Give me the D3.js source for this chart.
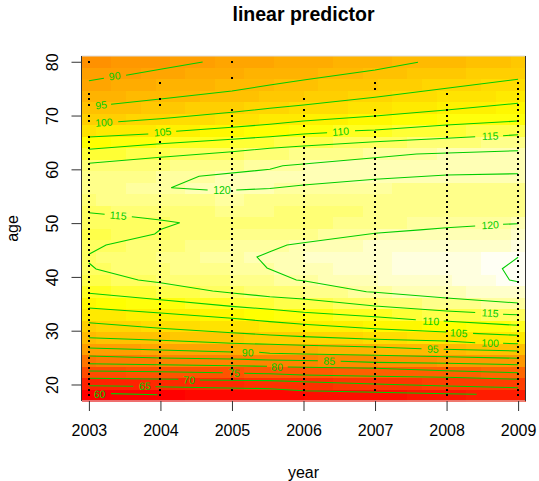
<!DOCTYPE html>
<html>
<head>
<meta charset="utf-8">
<script src="https://cdn.jsdelivr.net/npm/d3@7"></script>
<style>
  body { margin: 0; background: #fff; }
  text { font-family: "Liberation Sans", Arial, sans-serif; fill: #000; }
</style>
</head>
<body>
<div id="chart"></div>
<script>
const yearTicks = [2003, 2004, 2005, 2006, 2007, 2008, 2009];
const ageTicks = [20, 30, 40, 50, 60, 70, 80];

// linear predictor on the 30 x 30 grid, top row is age 80, bottom row is age 18
const gridValues = [
  [86.8,87.2,87.5,87.9,88.2,88.6,89,89.4,89.8,90.2,90.6,90.9,91.2,91.5,91.7,92,92.4,92.8,93.1,93.4,93.7,94,94.3,94.5,94.8,95,95.3,95.6,95.9,96.4],
  [88.7,89.1,89.5,89.9,90.3,90.7,91,91.4,91.7,92.1,92.4,92.7,92.9,93.2,93.5,93.8,94.2,94.7,95.1,95.5,95.9,96.2,96.6,96.9,97.3,97.6,97.9,98.2,98.5,98.8],
  [90.8,91.2,91.5,91.9,92.2,92.6,92.9,93.2,93.6,93.9,94.2,94.6,95,95.4,95.8,96.1,96.5,96.9,97.2,97.6,98,98.3,98.6,99,99.3,99.7,100,100.3,100.7,101.1],
  [93,93.3,93.6,93.9,94.2,94.5,94.8,95.1,95.4,95.6,95.9,96.3,96.7,97.1,97.5,97.9,98.4,98.8,99.2,99.6,100,100.4,100.8,101.2,101.6,101.9,102.3,102.7,103.1,103.5],
  [95.2,95.6,95.9,96.3,96.6,97,97.4,97.8,98.2,98.5,98.9,99.3,99.6,100,100.4,100.8,101.1,101.5,101.9,102.3,102.7,103.1,103.6,104,104.4,104.7,105,105.2,105.5,105.7],
  [98,98.5,98.9,99.4,99.8,100.2,100.6,101,101.5,101.9,102.3,102.8,103.2,103.7,104.1,104.5,104.9,105.3,105.7,106.1,106.5,106.9,107.3,107.7,108.1,108.3,108.5,108.8,109,109.3],
  [102.5,102.9,103.3,103.7,104.1,104.5,104.9,105.3,105.6,106,106.4,106.9,107.4,107.9,108.4,108.9,109.3,109.7,110,110.4,110.8,111.1,111.5,111.8,112.2,112.4,112.7,113,113.2,113.5],
  [107.1,107.6,108.1,108.6,109.1,109.6,109.9,110.2,110.6,110.9,111.2,111.7,112.2,112.7,113.2,113.6,113.9,114.2,114.5,114.8,115.1,115.4,115.7,116,116.3,116.6,116.8,117.1,117.3,117.6],
  [111.5,112,112.4,112.9,113.3,113.8,114.1,114.5,114.8,115.1,115.4,115.8,116.2,116.6,117,117.4,117.7,118.1,118.4,118.8,119,119.3,119.5,119.8,120,120.1,120.2,120.3,120.4,120.5],
  [115.5,115.7,116,116.2,116.5,116.7,117,117.4,117.7,118,118.3,118.7,119.1,119.5,119.9,120.2,120.3,120.4,120.5,120.6,120.7,120.8,120.8,120.9,120.9,120.9,121,121,121,121],
  [117,117.3,117.6,117.9,118.2,118.5,118.9,119.4,119.8,120.2,120.6,120.7,120.8,120.9,121,121,121,121,121,121,120.9,120.8,120.6,120.5,120.3,120.3,120.3,120.3,120.3,120.3],
  [117.5,118,118.4,118.9,119.3,119.8,119.9,120,120.1,120.1,120.2,120.1,120,119.9,119.7,119.6,119.4,119.2,118.9,118.7,118.5,118.3,118.1,117.9,117.7,117.7,117.6,117.6,117.5,117.5],
  [116.7,117,117.3,117.6,117.9,118.2,118.3,118.4,118.4,118.5,118.5,118.4,118.2,118.1,117.9,117.7,117.6,117.5,117.4,117.2,117.2,117.1,117.1,117,117,117,117,117,117,117],
  [115.3,115.4,115.6,115.7,115.9,116,116.3,116.5,116.8,117,117.3,117.2,117.1,116.9,116.8,116.7,116.7,116.8,116.9,117,117,117.1,117.2,117.2,117.3,117.4,117.6,117.7,117.9,118],
  [114,114.2,114.5,114.7,115,115.2,115.5,115.8,116.2,116.5,116.8,116.8,116.7,116.7,116.6,116.6,116.8,117.1,117.4,117.7,117.9,118.2,118.5,118.7,119,119.2,119.4,119.6,119.8,120],
  [113.6,113.9,114.2,114.5,114.8,115.1,115.5,116,116.4,116.9,117.3,117.4,117.6,117.7,117.9,118,118.5,118.9,119.4,119.9,120.1,120.3,120.4,120.6,120.8,120.9,121.1,121.2,121.4,121.5],
  [114.5,114.9,115.3,115.7,116.1,116.5,116.9,117.3,117.7,118.1,118.5,118.9,119.3,119.7,120.1,120.4,120.7,120.9,121.2,121.5,121.7,121.9,122.1,122.3,122.5,122.6,122.7,122.8,122.9,123],
  [115.3,115.7,116.1,116.5,116.9,117.3,117.8,118.3,118.8,119.3,119.7,120.1,120.5,120.9,121.3,121.5,121.8,122.1,122.4,122.7,122.9,123.1,123.4,123.6,123.9,124.1,124.3,124.6,124.8,125],
  [114.7,115.1,115.6,116,116.5,116.9,117.3,117.6,118,118.3,118.7,119.2,119.7,120.2,120.7,121.1,121.4,121.7,122,122.3,122.7,123,123.2,123.5,123.8,124.1,124.4,124.6,124.9,125.2],
  [113.4,113.8,114.2,114.7,115.1,115.5,115.8,116.2,116.5,116.9,117.2,117.7,118.3,118.8,119.4,119.9,120.2,120.6,120.9,121.2,121.6,121.9,122.2,122.5,122.8,123.2,123.6,124,124.5,125],
  [110.5,110.9,111.3,111.7,112.1,112.5,113.1,113.6,114.2,114.7,115.3,115.7,116,116.4,116.8,117.2,117.7,118.3,118.8,119.3,119.8,120.1,120.4,120.7,121,121.3,121.6,121.9,122.2,122.8],
  [106.7,107.1,107.5,108,108.4,108.8,109.3,109.8,110.2,110.7,111.2,111.6,112.1,112.5,113,113.4,113.9,114.3,114.8,115.2,115.6,116.1,116.6,117,117.5,118,118.4,118.8,119.2,119.9],
  [103.6,103.8,104,104.2,104.4,104.6,105,105.4,105.7,106.1,106.5,107,107.5,108,108.5,109,109.4,109.8,110.1,110.5,110.9,111.4,111.9,112.5,113,113.5,113.8,114.1,114.5,115],
  [98.8,99.2,99.6,99.9,100.3,100.7,101,101.3,101.6,101.9,102.2,102.6,103,103.4,103.8,104.2,104.6,104.9,105.3,105.6,106,106.3,106.7,107,107.4,107.7,108.1,108.5,108.9,109.7],
  [95,95.2,95.5,95.7,95.9,96.1,96.4,96.7,97,97.3,97.6,97.9,98.2,98.6,98.9,99.2,99.5,99.8,100.2,100.5,100.8,101.2,101.6,102,102.4,102.8,102.9,103.1,103.3,103.5],
  [89.2,89.4,89.7,89.9,90.2,90.4,90.6,90.8,91,91.1,91.3,91.5,91.8,92,92.3,92.5,92.8,93.1,93.3,93.6,93.9,94.1,94.3,94.6,94.8,95,95.2,95.4,95.6,96],
  [82,82.3,82.6,82.9,83.2,83.5,83.5,83.6,83.6,83.7,83.7,83.9,84.1,84.3,84.5,84.7,85,85.4,85.7,86,86.4,86.6,86.9,87.1,87.4,87.6,87.8,88,88.2,88.5],
  [74.2,74.3,74.4,74.5,74.6,74.7,74.9,75.1,75.3,75.5,75.7,75.9,76.2,76.4,76.6,76.8,76.9,77.1,77.2,77.4,77.5,77.6,77.7,77.8,77.9,78,78.2,78.4,78.6,79],
  [66.3,66.4,66.6,66.7,66.9,67,67.2,67.4,67.6,67.8,68,68.2,68.4,68.5,68.7,68.9,69.1,69.4,69.6,69.8,70.1,70.3,70.5,70.7,71,71.2,71.3,71.4,71.6,71.8],
  [59.5,59.6,59.7,59.8,59.9,60,60.2,60.3,60.5,60.6,60.8,61,61.1,61.3,61.4,61.6,61.8,62,62.1,62.3,62.5,62.8,63.1,63.4,63.7,64,64.2,64.4,64.7,65]
];

// contour pieces, level and [year, age] vertices, broken where a label sits
const contourLevels = [90, 90, 95, 100, 105, 105, 110, 110, 115, 115, 120, 120, 115, 115, 115, 120, 120, 115, 125,
  110, 110, 105, 105, 100, 100, 95, 95, 90, 90, 85, 85, 80, 80, 75, 75, 70, 70, 65, 65, 60];
const contourPaths = [
  [[2003,76.48],[2003.21,76.92]],
  [[2003.52,77.48],[2004,78.6],[2004.59,79.95]],
  [[2003.31,72.09],[2004,73.07],[2005,74.56],[2005.53,75.68],[2006,76.61],[2007,78.47],[2007.6,79.9]],
  [[2003.41,68.85],[2004,69.41],[2005,70.6],[2005.53,71.35],[2006,71.96],[2007,73.39],[2008,75.06],[2009,76.74]],
  [[2003,66.01],[2003.83,66.57]],
  [[2004.22,67.07],[2005,67.81],[2005.53,68.37],[2006,68.98],[2007,69.91],[2008,71.03],[2009,72.28]],
  [[2003,63.72],[2004,64.76],[2005,65.58],[2005.53,66.07],[2006,66.57],[2006.33,66.81]],
  [[2006.72,67.18],[2007,67.31],[2008,68.24],[2009,68.98]],
  [[2003,61.12],[2004,62.24],[2005,63.28],[2005.53,63.91],[2006,64.34],[2007,65.14],[2008,65.77],[2008.4,66.07]],
  [[2008.79,66.25],[2009,66.44]],
  [[2004.66,56.16],[2004.15,56.58],[2004.54,58.7],[2005.53,60.01],[2005.71,60.67],[2006,60.99],[2007,62.16],[2007.58,62.85],[2009,63.46]],
  [[2005.06,56.16],[2005.53,56.44],[2006,57.09],[2007,58.15],[2008,58.95],[2009,59.19]],
  [[2003,51.94],[2003.22,51.64]],
  [[2003.6,51.19],[2004,50.58],[2004.27,50.08],[2004,48.81],[2003.92,47.98],[2003.24,45.93],[2003,44.2]],
  [[2003,42.59],[2003.1,41.47],[2003.69,39.43],[2004,38.92],[2004.73,37.38],[2005,37.01],[2005.53,36.32],[2006,35.89],[2007,34.59],[2008,33.66],[2008.4,33.38]],
  [[2008.4,49.46],[2008,49.15],[2007.63,48.75],[2007,48.11],[2006,46.36],[2005.77,45.93],[2005.53,44.69],[2005.35,43.7],[2005.49,41.66],[2005.9,39.43],[2006,39.3],[2006.88,37.25],[2007,37.14],[2008,36.08],[2009,35.15]],
  [[2008.79,49.78],[2009,49.89]],
  [[2008.79,33.05],[2009,32.97]],
  [[2009,43.65],[2008.78,41.53],[2008.88,39.41],[2009,39.1]],
  [[2003,36.95],[2004,35.76],[2005,34.53],[2005.53,33.98],[2006,33.42],[2007,32.6],[2007.57,32.05]],
  [[2007.96,31.8],[2009,31]],
  [[2003,34.22],[2004,33.29],[2005,32.31],[2005.53,31.68],[2006,31.19],[2007,30.37],[2008,29.76]],
  [[2008.37,29.51],[2009,29.15]],
  [[2003,31.49],[2004,30.45],[2005,29.63],[2005.53,29.2],[2006,28.89],[2007,28.4],[2008,28.08],[2008.4,27.77]],
  [[2008.79,27.66],[2009,27.58]],
  [[2003,28.7],[2004,28.22],[2005,27.66],[2005.53,27.47],[2006,27.29],[2007,26.97],[2007.65,26.65]],
  [[2007.96,26.54],[2009,26.23]],
  [[2003,26.78],[2004,26.41],[2005,26.04]],
  [[2005.38,25.98],[2005.53,25.8],[2006,25.67],[2007,25.43],[2008,25.17],[2009,24.87]],
  [[2003,25.3],[2004,24.92],[2005,24.74],[2005.53,24.55],[2006.2,24.42]],
  [[2006.52,24.31],[2007,24.12],[2008,23.94],[2009,23.68]],
  [[2003,23.86],[2004,23.68],[2005,23.49],[2005.49,23.38]],
  [[2005.78,23.25],[2007,23.01],[2008,22.56],[2009,22.19]],
  [[2003,22.51],[2004,22.38],[2004.87,22.19]],
  [[2005.17,22.08],[2005.53,22.01],[2006,21.77],[2007,21.52],[2008,21.34],[2009,20.97]],
  [[2003,21.15],[2004.25,20.97]],
  [[2004.55,20.84],[2005.53,20.71],[2006,20.52],[2007,20.09],[2008,19.72],[2009,19.4]],
  [[2003,19.78],[2003.62,19.66]],
  [[2003.93,19.59],[2005.53,19.22],[2006,18.85],[2007,18.55],[2008,18.29],[2008.42,18.18]],
  [[2003.31,18.3],[2003.96,18.1]]
];

const labelLevels = [90, 95, 100, 105, 110, 115, 120, 115, 120, 115, 110, 105, 100, 95, 90, 85, 80, 75, 70, 65, 60];
const labelYears = [2003.36, 2003.17, 2003.21, 2004.03, 2006.52, 2008.61, 2004.86, 2003.41, 2008.61, 2008.61, 2007.78, 2008.17, 2008.61, 2007.81, 2005.22, 2006.36, 2005.63, 2005.03, 2004.4, 2003.78, 2003.15];
const labelAges = [77.35, 71.96, 68.71, 66.94, 67.03, 66.2, 56.16, 51.42, 49.65, 33.29, 31.8, 29.58, 27.71, 26.6, 25.95, 24.37, 23.25, 22.14, 20.84, 19.72, 18.23];

// observed ages for each year
const ages2003 = [80,74,73,72,70,69,66,65,64,63,62,61,60,59,58,57,56,55,54,53,52,51,50,49,48,47,46,45,44,43,42,41,40,39,38,37,36,35,34,33,32,31,30,29,28,27,26,25,24,23,22,21,20,19,18];
const ages2004 = [76,73,72,65,63,62,61,60,59,58,57,56,55,54,53,52,51,50,49,48,47,46,45,44,43,42,41,40,39,38,37,36,35,34,33,32,31,30,29,28,27,26,25,24,23,22,21,20,19,18];
const ages2005 = [80,77,71,70,69,68,67,66,65,64,63,62,61,60,59,58,57,56,55,54,53,52,51,50,49,48,47,46,45,44,43,42,41,40,39,38,37,36,35,34,33,32,31,30,29,28,27,26,25,24,23,22,21,19];
const ages2006 = [73,71,70,68,66,65,64,63,62,61,60,59,58,57,56,55,54,53,52,51,50,49,48,47,46,45,44,43,42,41,40,39,38,37,36,35,34,33,32,31,30,29,28,27,26,25,24,23,22,21,20,19,18];
const ages2007 = [76,75,71,70,67,66,64,63,62,61,60,59,58,57,56,55,54,53,52,51,50,49,48,47,46,45,44,43,42,41,40,39,38,37,36,35,34,33,32,31,30,29,28,27,26,25,24,23,22,21,20,19];
const ages2008 = [74,72,71,70,69,68,67,66,64,63,62,61,60,59,58,57,56,55,54,53,52,51,50,49,48,47,46,45,44,43,42,41,40,39,38,37,36,35,34,33,32,31,30,29,28,27,26,25,24,23,22,21,20,19,18];
const ages2009 = [76,75,74,73,72,71,70,69,68,67,66,65,64,63,62,61,60,59,58,57,56,55,54,53,52,51,50,49,48,47,46,45,44,43,42,41,40,39,38,37,36,35,34,33,32,31,30,29,28,27,26,25,24,23,22,21,20,19,18];
const observedAges = [ages2003, ages2004, ages2005, ages2006, ages2007, ages2008, ages2009];

const width = 539, height = 481;
const plot = { left: 81.5, right: 525.5, top: 56, bottom: 401 };
const green = "#00CD00";

const svg = d3.select("#chart").append("svg")
    .attr("width", width)
    .attr("height", height)
    .style("display", "block");

// Scales, the image runs half a cell past the first and last grid point
const yearStep = 6 / 29, ageStep = 62 / 29;
const x = d3.scaleLinear()
    .domain([2003 - yearStep / 2, 2009 + yearStep / 2])
    .range([plot.left, plot.right]);
const y = d3.scaleLinear()
    .domain([18 - ageStep / 2, 80 + ageStep / 2])
    .range([plot.bottom, plot.top]);

// heat.colors(50): 38 steps red to yellow, 12 steps yellow to white
const heatColors = d3.range(38).map(k => d3.rgb(255, 255 * k / 37, 0).formatHex())
    .concat(d3.range(12).map(k => {
        const s = 1 - (2 * k + 1) / 24;
        return d3.rgb(255, 255, 255 * (1 - s)).formatHex();
    }));
const colorIndex = d3.scaleLinear().domain([59, 108, 126]).range([0, 38, 50]).clamp(true);
const color = v => heatColors[Math.min(49, Math.floor(colorIndex(v)))];

// Image cells
const cells = gridValues.flatMap((row, i) => row.map((v, j) => ({ i, j, v })));
svg.append("g")
    .attr("shape-rendering", "crispEdges")
    .selectAll("rect")
    .data(cells)
    .enter()
    .append("rect")
    .attr("x", d => x(2003 + (d.j - 0.5) * yearStep))
    .attr("y", d => y(80 - (d.i - 0.5) * ageStep))
    .attr("width", x(yearStep) - x(0) + 0.5)
    .attr("height", y(0) - y(ageStep) + 0.5)
    .attr("fill", d => color(d.v));

// Contour lines
const line = d3.line().x(d => x(d[0])).y(d => y(d[1]));
svg.append("g")
    .selectAll("path")
    .data(contourPaths)
    .enter()
    .append("path")
    .attr("d", line)
    .attr("fill", "none")
    .attr("stroke", green)
    .attr("stroke-width", 1.1);

// Contour labels, turned along the two nearest vertices of their level
function labelAngle(i) {
    const px = x(labelYears[i]), py = y(labelAges[i]);
    const near = contourPaths
        .filter((p, k) => contourLevels[k] === labelLevels[i])
        .flat()
        .map(p => ({ px: x(p[0]), py: y(p[1]) }))
        .sort((a, b) => Math.hypot(a.px - px, a.py - py) - Math.hypot(b.px - px, b.py - py))
        .slice(0, 2)
        .sort((a, b) => a.px - b.px);
    return Math.atan2(near[1].py - near[0].py, near[1].px - near[0].px) * 180 / Math.PI;
}

svg.append("g")
    .selectAll("text")
    .data(labelLevels)
    .enter()
    .append("text")
    .attr("transform", (d, i) => `translate(${x(labelYears[i])},${y(labelAges[i])}) rotate(${labelAngle(i)})`)
    .attr("dy", "0.36em")
    .attr("text-anchor", "middle")
    .style("font-size", "10.5px")
    .style("fill", green)
    .text(d => d);

// Observed year and age points
svg.append("g")
    .attr("shape-rendering", "crispEdges")
    .selectAll("rect")
    .data(yearTicks.flatMap((yr, i) => observedAges[i].map(a => ({ yr, a }))))
    .enter()
    .append("rect")
    .attr("x", d => Math.round(x(d.yr)) - 1)
    .attr("y", d => Math.round(y(d.a)) - 1)
    .attr("width", 2)
    .attr("height", 2)
    .attr("fill", "#000");

// Box, the top and bottom edges are nearly lost against the image
svg.append("path")
    .attr("d", `M${plot.left},${plot.top}H${plot.right}M${plot.left},${plot.bottom}H${plot.right}`)
    .attr("stroke", "#ddd")
    .attr("fill", "none");
svg.append("path")
    .attr("d", `M${plot.left},${plot.top}V${plot.bottom}M${plot.right},${plot.top}V${plot.bottom}`)
    .attr("stroke", "#333")
    .attr("fill", "none");

// Axes
const xAxis = svg.append("g")
    .attr("transform", `translate(0,${plot.bottom})`)
    .call(d3.axisBottom(x).tickValues(yearTicks).tickFormat(d3.format("d")).tickSize(10).tickSizeOuter(0));
xAxis.select(".domain").remove();
xAxis.selectAll("line").attr("stroke", "#333");
xAxis.selectAll("text")
    .attr("y", 35)
    .attr("dy", 0)
    .style("font-size", "16px");

const yAxis = svg.append("g")
    .attr("transform", `translate(${plot.left},0)`)
    .call(d3.axisLeft(y).tickValues(ageTicks).tickSize(10).tickSizeOuter(0));
yAxis.select(".domain").remove();
yAxis.selectAll("line").attr("stroke", "#333");
yAxis.selectAll("text")
    .attr("x", 0)
    .attr("dy", 0)
    .attr("transform", "translate(-24,0) rotate(-90)")
    .attr("text-anchor", "middle")
    .style("font-size", "16px");

// Title and axis labels
svg.append("text")
    .attr("x", (plot.left + plot.right) / 2)
    .attr("y", 21)
    .attr("text-anchor", "middle")
    .style("font-size", "19.5px")
    .style("font-weight", "bold")
    .text("linear predictor");

svg.append("text")
    .attr("x", (plot.left + plot.right) / 2)
    .attr("y", 478)
    .attr("text-anchor", "middle")
    .style("font-size", "16px")
    .text("year");

svg.append("text")
    .attr("transform", `translate(18,${(plot.top + plot.bottom) / 2}) rotate(-90)`)
    .attr("text-anchor", "middle")
    .style("font-size", "16px")
    .text("age");
</script>
</body>
</html>
